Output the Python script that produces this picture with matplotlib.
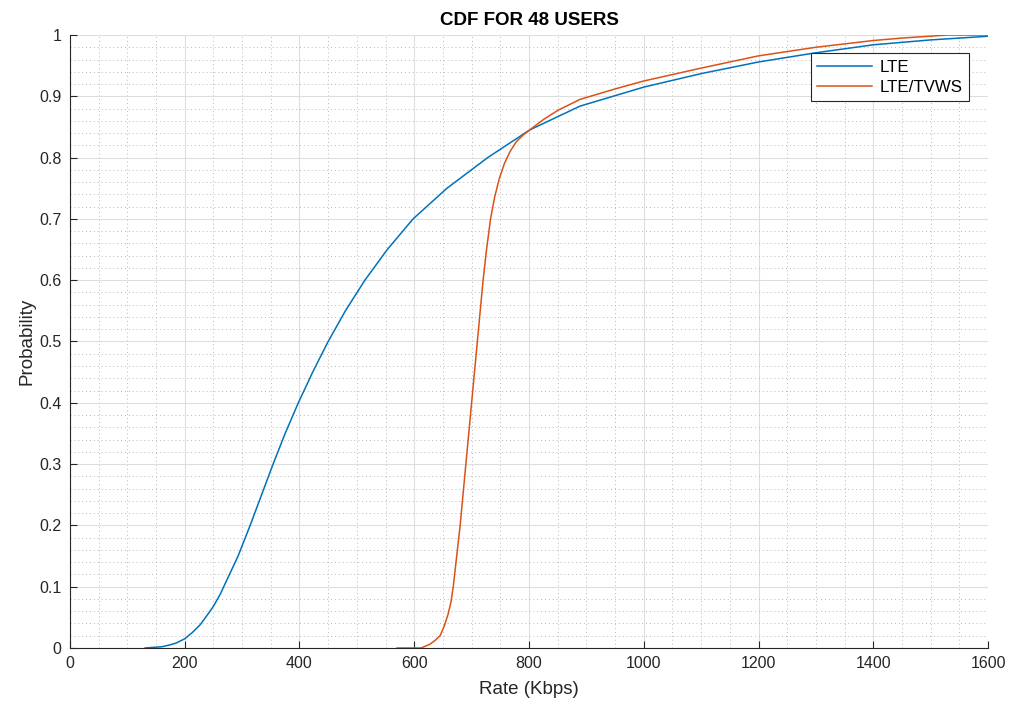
import matplotlib
matplotlib.use('Agg')
import matplotlib.pyplot as plt
from matplotlib.ticker import MultipleLocator

plt.rcParams['font.family'] = ['Liberation Sans', 'DejaVu Sans']

# CDF points (rate in Kbps, probability)
lte_rate = [131, 160, 174, 185, 200, 213, 227, 238, 250, 262, 274, 293, 314, 334,
            354, 375, 398, 423, 450, 480, 514, 553, 598, 657, 728, 801, 889, 1000,
            1100, 1200, 1300, 1400, 1500, 1600]
lte_prob = [0.0, 0.002, 0.005, 0.008, 0.015, 0.025, 0.038, 0.052, 0.068, 0.088, 0.112,
            0.15, 0.2, 0.25, 0.3, 0.35, 0.4, 0.45, 0.5, 0.55, 0.6, 0.65, 0.7, 0.75,
            0.8, 0.845, 0.884, 0.915, 0.937, 0.956, 0.971, 0.984, 0.992, 0.998]

tvws_rate = [570, 612, 627, 636, 645, 652, 659, 664, 668, 674, 680, 685, 690, 695,
             700, 705, 710, 715, 720, 726, 733, 740, 748, 757, 767, 778, 790, 801,
             825, 850, 889, 950, 1000, 1100, 1200, 1300, 1400, 1450, 1530, 1600]
tvws_prob = [0.0, 0.0, 0.006, 0.012, 0.02, 0.035, 0.055, 0.075, 0.1, 0.15, 0.2, 0.25,
             0.3, 0.35, 0.4, 0.45, 0.5, 0.55, 0.6, 0.65, 0.7, 0.735, 0.765, 0.79, 0.81,
             0.826, 0.837, 0.845, 0.862, 0.877, 0.895, 0.912, 0.925, 0.946, 0.966,
             0.98, 0.991, 0.995, 1.0, 1.0]

fig = plt.figure(figsize=(10.17, 7.13), dpi=100)
ax = fig.add_axes([0.0688, 0.0912, 0.9027, 0.8597])

ax.plot(lte_rate, lte_prob, color='#0072BD', linewidth=1.1, label='LTE')
ax.plot(tvws_rate, tvws_prob, color='#D95319', linewidth=1.1, label='LTE/TVWS')

ax.set_xlim(0, 1600)
ax.set_ylim(0, 1)
ax.xaxis.set_major_locator(MultipleLocator(200))
ax.xaxis.set_minor_locator(MultipleLocator(50))
ax.yaxis.set_major_locator(MultipleLocator(0.1))
ax.yaxis.set_minor_locator(MultipleLocator(0.02))
ax.set_yticks([i / 10 for i in range(11)])
ax.set_yticklabels(['0'] + [f'{i / 10:g}' for i in range(1, 10)] + ['1'])

ax.grid(which='major', color='#dedede', linewidth=0.8)
ax.grid(which='minor', color='#b8b8b8', linestyle=(0, (1, 3)), linewidth=0.7)
ax.set_axisbelow(True)

for side in ['top', 'right']:
    ax.spines[side].set_visible(False)
for side in ['left', 'bottom']:
    ax.spines[side].set_color('#262626')
    ax.spines[side].set_linewidth(0.8)

ax.tick_params(which='major', direction='in', length=5, width=0.8, colors='#262626',
               labelsize=11.5, pad=6)
ax.tick_params(which='minor', length=0)

ax.set_xlabel('Rate (Kbps)', fontsize=13.5, color='#262626', labelpad=7)
ax.set_ylabel('Probability', fontsize=13.5, color='#262626', labelpad=3)
ax.set_title('CDF FOR 48 USERS', fontsize=13.5, fontweight='bold', pad=7)

leg = ax.legend(loc='upper right', bbox_to_anchor=(0.9793, 0.971), borderaxespad=0,
                fontsize=12.2, fancybox=False, edgecolor='#262626', framealpha=1,
                handlelength=3.2, handletextpad=0.45, borderpad=0.4,
                labelspacing=0.3)
leg.get_frame().set_linewidth(0.8)

fig.savefig('out.png', dpi=100)
